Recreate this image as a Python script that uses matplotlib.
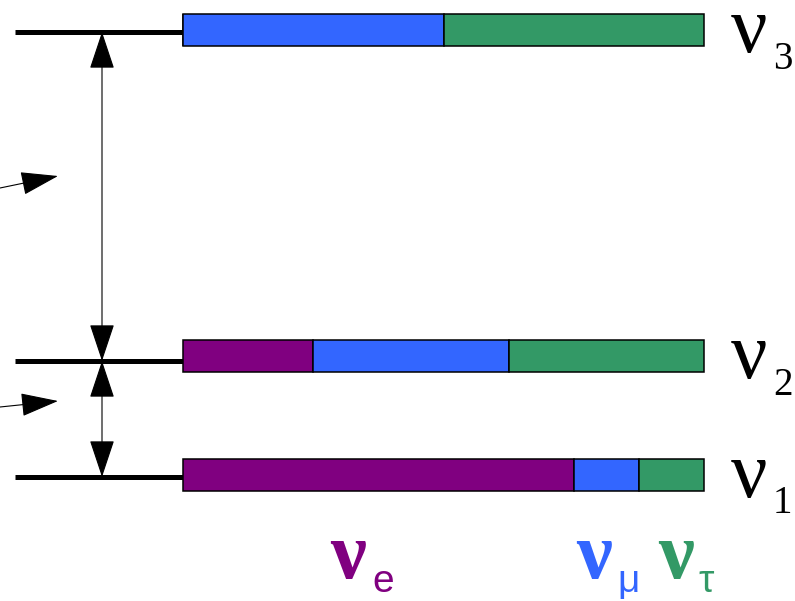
import numpy as np
import matplotlib
matplotlib.use("Agg")
import matplotlib.pyplot as plt
from matplotlib.patches import FancyArrowPatch

# Flavour content of each mass eigenstate (fractions of nu_e, nu_mu, nu_tau)
states = ["3", "2", "1"]
flavours = ["e", "μ", "τ"]
flavour_colors = ["#800080", "#3366FF", "#339966"]
frac_e = [0.0, 0.25, 0.75]
frac_mu = [0.5, 0.375, 0.125]
frac_tau = [0.5, 0.375, 0.125]

W, H = 795, 601
fig = plt.figure(figsize=(W / 100, H / 100), dpi=100)

# Full-figure canvas in pixel units for the level diagram
ax = fig.add_axes([0, 0, 1, 1])
ax.set_xlim(0, W)
ax.set_ylim(H, 0)
ax.axis("off")

# Bar area: x in fractional units
x0, x1 = 183, 704
bx = fig.add_axes([x0 / W, 0, (x1 - x0) / W, 1])
bx.set_xlim(0, 1)
bx.set_ylim(H, 0)
bx.axis("off")

bar_y = [30, 355.5, 475]
bar_h = 32
level_y = [32, 361, 477]

fracs = np.array([frac_e, frac_mu, frac_tau])
left = np.zeros(len(states))
for k in range(len(flavours)):
    bx.barh(bar_y, fracs[k], left=left, height=bar_h, color=flavour_colors[k],
            edgecolor="black", linewidth=1.1, clip_on=False, zorder=2)
    left += fracs[k]

# Energy levels
for y in level_y:
    ax.plot([15, 189], [y, y], color="black", linewidth=3.6,
            solid_capstyle="butt", zorder=3)

# Mass-splitting double arrows
style2 = "<|-|>,head_length=24,head_width=8"
for ya, yb in [(level_y[0], level_y[1]), (level_y[1], level_y[2])]:
    ax.add_patch(FancyArrowPatch((102, ya), (102, yb), arrowstyle=style2,
                                 mutation_scale=1, shrinkA=0, shrinkB=0,
                                 color="black", linewidth=0.8, zorder=4))

# Pointer arrows coming in from the left
style1 = "-|>,head_length=24,head_width=7.5"
for (xa, ya), (xb, yb) in [((0, 188), (58, 176)), ((0, 407), (58, 401))]:
    ax.add_patch(FancyArrowPatch((xa, ya), (xb, yb), arrowstyle=style1,
                                 mutation_scale=1, shrinkA=0, shrinkB=0,
                                 color="black", linewidth=0.8, zorder=4))

# Mass eigenstate labels
nu_base = [52, 378, 497]
sub_base = [69, 395, 513]
for s, yb, ys in zip(states, nu_base, sub_base):
    ax.text(731, yb, "ν", fontfamily="Liberation Serif", fontsize=58,
            va="baseline", ha="left", color="black")
    ax.text(773, ys, s, fontfamily="Liberation Serif", fontsize=28,
            va="baseline", ha="left", color="black")

# Flavour labels
flav_x = [330, 576, 658]
sub_x = [372, 617, 698]
for f, c, xn, xs in zip(flavours, flavour_colors, flav_x, sub_x):
    ax.text(xn, 578, "ν", fontfamily="Liberation Serif", fontsize=58,
            fontweight="bold", va="baseline", ha="left", color=c)
    ax.text(xs, 592, f, fontfamily="Liberation Sans", fontsize=28,
            va="baseline", ha="left", color=c)

fig.savefig("out.png", dpi=100, facecolor="white")
